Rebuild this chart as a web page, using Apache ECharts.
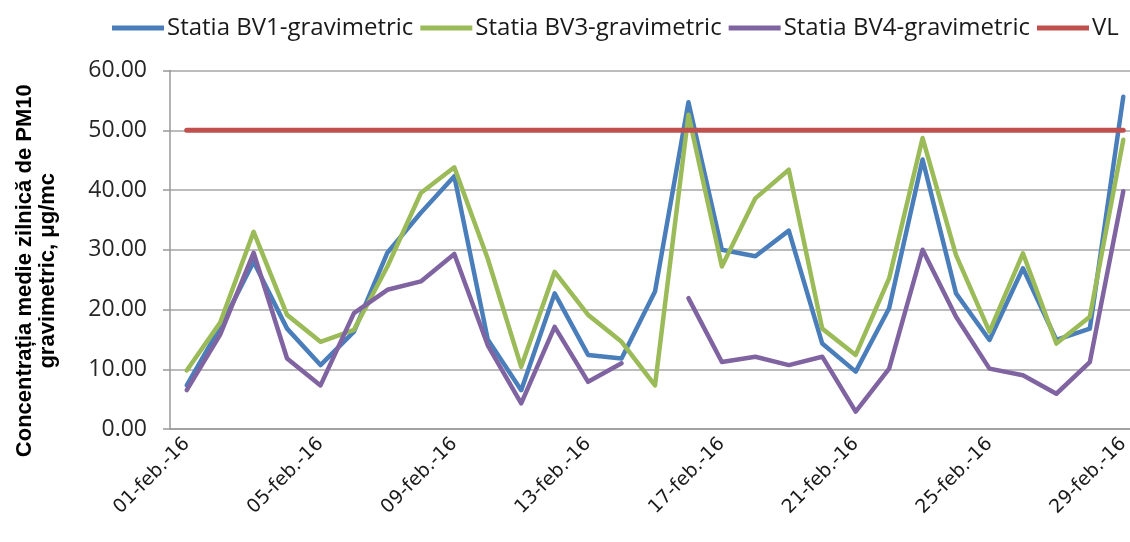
<!DOCTYPE html>
<html>
<head>
<meta charset="utf-8">
<script src="https://cdn.jsdelivr.net/npm/echarts@6/dist/echarts.min.js"></script>
<style>
  html, body { margin: 0; padding: 0; background: #fff; }
  #chart { width: 1130px; height: 542px; }
</style>
</head>
<body>
<div id="chart"></div>
<script>
// zile: 01-feb.-16 ... 29-feb.-16
const days = []
for (let d = 1; d <= 29; d++) days.push((d < 10 ? '0' + d : '' + d) + '-feb.-16')

const bv1 = [7.3, 17.0, 28.0, 16.8, 10.7, 16.3, 29.5, 36.2, 42.3, 15.0, 6.5, 22.7, 12.4, 11.8, 23.0,
  54.7, 30.0, 28.9, 33.2, 14.3, 9.6, 20.2, 45.1, 22.7, 14.9, 26.9, 14.9, 16.8, 55.6]
const bv3 = [9.8, 17.8, 33.0, 19.1, 14.6, 16.6, 27.2, 39.5, 43.8, 28.5, 10.4, 26.3, 19.1, 14.6, 7.3,
  52.6, 27.2, 38.6, 43.4, 16.8, 12.4, 25.2, 48.7, 29.1, 16.3, 29.4, 14.3, 18.8, 48.4]
const bv4 = [6.5, 15.8, 29.5, 11.8, 7.3, 19.4, 23.3, 24.7, 29.3, 14.0, 4.3, 17.1, 7.9, 11.0, '-',
  21.9, 11.2, 12.1, 10.7, 12.1, 2.9, 10.1, 30.0, 18.8, 10.1, 9.0, 5.9, 11.2, 39.8]
const vl = days.map(() => 50)

const chart = echarts.init(document.getElementById('chart'))

const textFont = '"Liberation Sans Narrow", "Open Sans", sans-serif'

function line(name, data, color, width) {
  return {
    name, type: 'line', data,
    symbol: 'none',
    lineStyle: { color, width, join: 'round', cap: 'round' },
    itemStyle: { color },
    connectNulls: false,
  }
}

chart.setOption({
  animation: false,
  legend: {
    top: 11,
    left: 107,
    icon: 'rect',
    itemWidth: 52,
    itemHeight: 5,
    itemGap: 7,
    textStyle: { fontFamily: textFont, fontSize: 24, color: '#1a1a1a', padding: [0, 0, 0, -2] },
    data: ['Statia BV1-gravimetric', 'Statia BV3-gravimetric', 'Statia BV4-gravimetric', 'VL'],
  },
  grid: { left: 170, top: 70.5, width: 970, height: 358.5, outerBoundsMode: 'none', containLabel: false },
  xAxis: {
    type: 'category',
    data: days,
    boundaryGap: true,
    axisLine: { lineStyle: { color: '#999', width: 1.5 } },
    axisTick: { interval: 3, length: 8, lineStyle: { color: '#999', width: 1.5 } },
    axisLabel: {
      interval: 3, rotate: 45, margin: 12,
      fontFamily: '"DejaVu Sans", Verdana, sans-serif', fontSize: 19, color: '#1a1a1a',
    },
  },
  yAxis: {
    type: 'value',
    min: 0, max: 60, interval: 10,
    name: 'Concentrația medie zilnică de PM10\ngravimetric, μg/mc',
    nameLocation: 'middle',
    nameRotate: 90,
    nameGap: 111,
    nameTextStyle: {
      fontFamily: '"Liberation Sans", Arial, sans-serif', fontWeight: 'bold',
      fontSize: 22, color: '#000', lineHeight: 23, padding: [0, 42, 0, 0],
    },
    axisLine: { show: true, lineStyle: { color: '#999', width: 1.5 } },
    axisTick: { show: true, length: 7, lineStyle: { color: '#999', width: 1.5 } },
    axisLabel: {
      margin: 23, fontFamily: textFont, fontSize: 23, color: '#262626',
      formatter: v => v.toFixed(2),
    },
    splitLine: { lineStyle: { color: '#a6a6a6', width: 1.5 } },
  },
  series: [
    line('Statia BV1-gravimetric', bv1, '#4a7ebb', 4.5),
    line('Statia BV3-gravimetric', bv3, '#9bbb59', 4.5),
    line('Statia BV4-gravimetric', bv4, '#8064a2', 4.5),
    line('VL', vl, '#c0504d', 5),
  ],
})
</script>
</body>
</html>
